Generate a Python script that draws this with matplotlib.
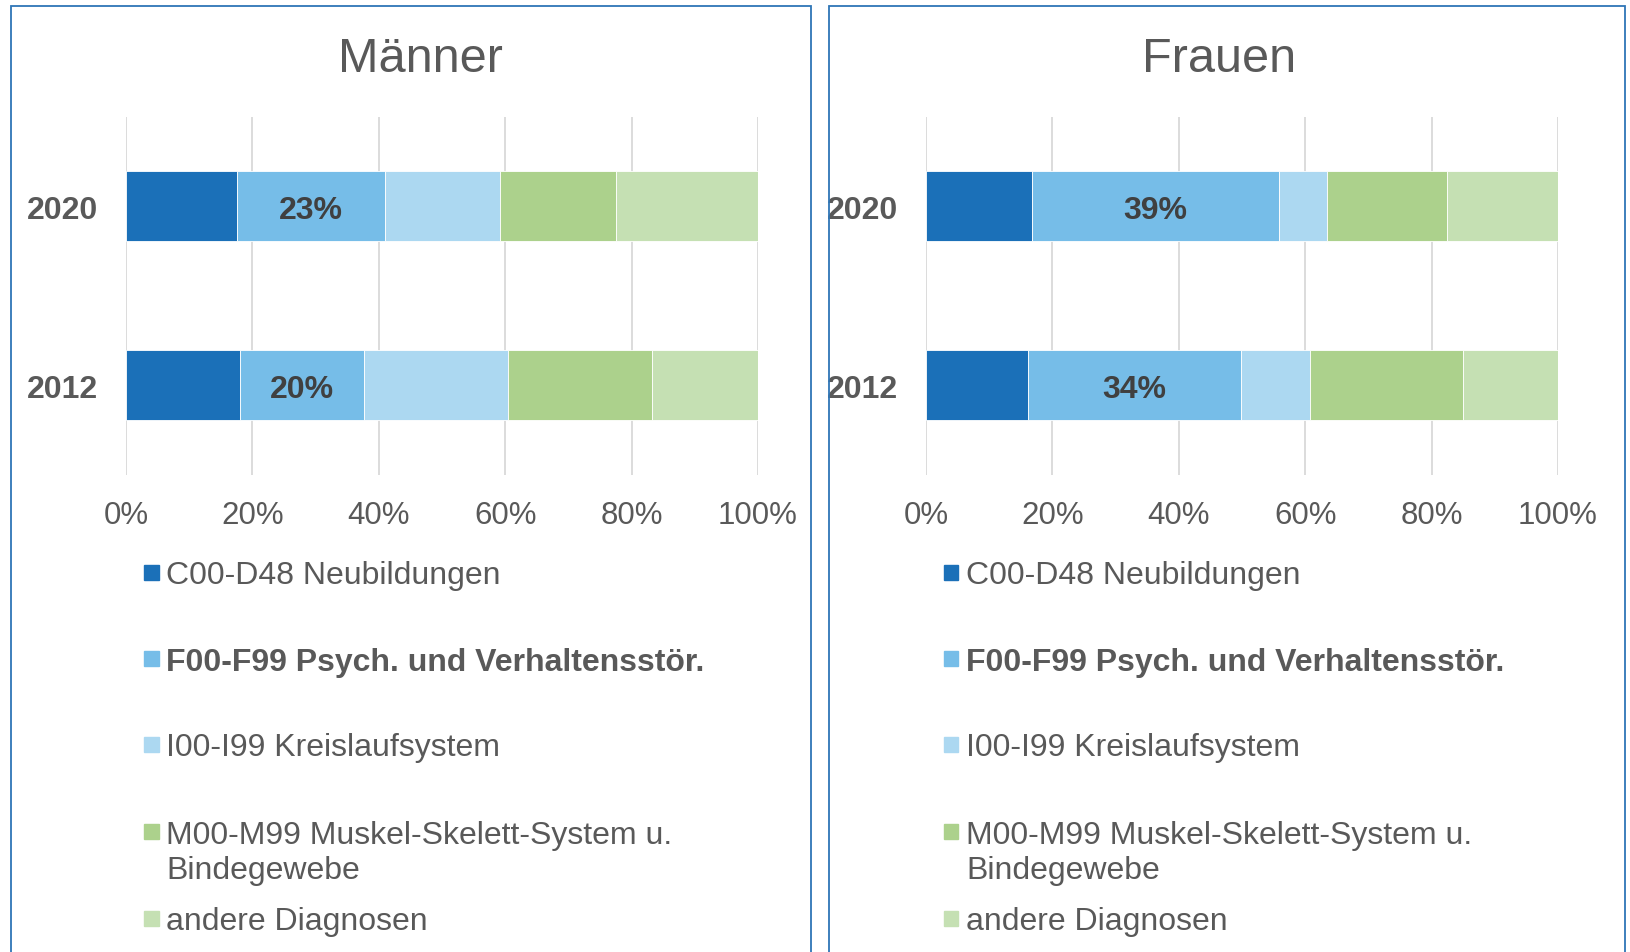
import matplotlib

matplotlib.use("Agg")
import matplotlib.pyplot as plt
import numpy as np
from matplotlib.patches import Rectangle

# Anteile der AU-Tage nach Diagnosegruppen (%)
years = ["2012", "2020"]
categories = ["C00-D48 Neubildungen",
              "F00-F99 Psych. und Verhaltensstör.",
              "I00-I99 Kreislaufsystem",
              "M00-M99 Muskel-Skelett-System u.\nBindegewebe",
              "andere Diagnosen"]
maenner_2012 = [18.0, 19.6, 22.9, 22.7, 16.8]
maenner_2020 = [17.6, 23.4, 18.1, 18.4, 22.5]
frauen_2012 = [16.1, 33.7, 10.9, 24.3, 15.0]
frauen_2020 = [16.7, 39.2, 7.5, 19.0, 17.6]
xticks = [0, 20, 40, 60, 80, 100]

COLORS = ["#1b70b8", "#76bde8", "#acd8f1", "#acd18c", "#c5e0b3"]
TXT = "#595959"
BORDER = "#2e75b6"

plt.rcParams.update({"font.family": ["Liberation Sans", "DejaVu Sans"]})

W, H = 1630, 953
fig = plt.figure(figsize=(W / 100, H / 100), dpi=100)


def px(x0, y0, x1, y1):
    """pixel box (top-left origin) -> figure fraction rect"""
    return [x0 / W, 1 - y1 / H, (x1 - x0) / W, (y1 - y0) / H]


panels = [
    ("Männer", [maenner_2012, maenner_2020], 126, 420, 10.5, 811),
    ("Frauen", [frauen_2012, frauen_2020], 926, 1219, 829, 1625),
]

for title, data, ax_x, title_x, box_l, box_r in panels:
    ax = fig.add_axes(px(ax_x, 117.5, ax_x + 632, 476))
    vals = np.array(data)
    ypos = np.arange(len(years))
    left = np.zeros(len(years))
    for i, cat in enumerate(categories):
        ax.barh(ypos, vals[:, i], left=left, height=0.39, color=COLORS[i],
                edgecolor="white", linewidth=0.6, zorder=2)
        if i == 1:
            for y, l, v in zip(ypos, left, vals[:, i]):
                ax.text(l + v / 2, y - 0.022, f"{v:.0f}%", ha="center", va="center",
                        fontsize=23, fontweight="bold", color="#404040", zorder=3)
        left += vals[:, i]

    ax.set_xlim(0, 100)
    ax.set_ylim(-0.5, 1.5)
    ax.set_xticks(xticks)
    ax.set_xticklabels([f"{t}%" for t in xticks], fontsize=22.5, color=TXT)
    ax.set_yticks(ypos)
    ax.set_yticklabels(years, fontsize=23, fontweight="bold", color=TXT)
    for lab in ax.get_yticklabels():
        lab.set_va("center_baseline")
    ax.tick_params(axis="x", length=0, pad=18)
    ax.tick_params(axis="y", length=0, pad=20)
    ax.grid(axis="x", color="#d9d9d9", linewidth=1.3, zorder=0)
    ax.set_axisbelow(True)
    for s in ax.spines.values():
        s.set_visible(False)

    fig.text(title_x / W, 1 - 59 / H, title, fontsize=35, color=TXT,
             ha="center", va="center")

    # legend, drawn by hand to keep Excel's spacing
    leg_y = [573, 659, 745, 832, 919]
    mk_x = ax_x + 17.5
    for i, (cat, yc) in enumerate(zip(categories, leg_y)):
        fig.add_artist(Rectangle(((mk_x) / W, 1 - (yc + 7.5) / H), 15 / W, 15 / H,
                                 transform=fig.transFigure, color=COLORS[i]))
        n_extra = cat.count("\n")
        base = yc + 11.5 + n_extra * 36
        fig.text((mk_x + 22.5) / W, 1 - base / H, cat, fontsize=23,
                 color=TXT, ha="left", va="baseline", linespacing=1.26,
                 fontweight="bold" if i == 1 else "normal")

    # panel frame (bottom edge runs off the image)
    fig.add_artist(Rectangle((box_l / W, -0.05), (box_r - box_l) / W,
                             1.05 - 7 / H, transform=fig.transFigure,
                             fill=False, edgecolor=BORDER, linewidth=1.3))

fig.savefig("out.png", dpi=100, facecolor="white")
